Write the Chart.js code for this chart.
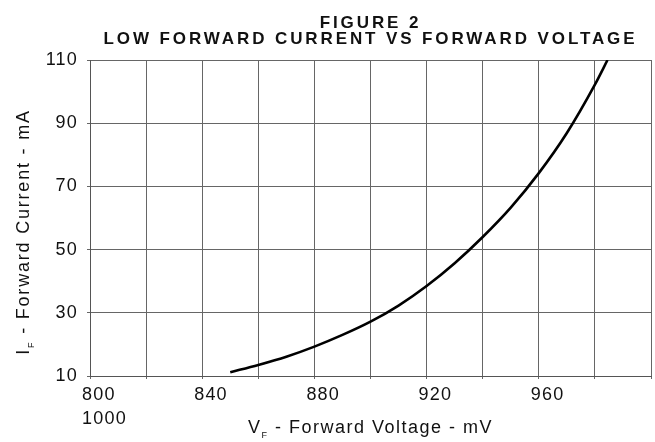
<!DOCTYPE html>
<html>
<head>
<meta charset="utf-8">
<script src="https://cdn.jsdelivr.net/npm/chart.js@4.4.0/dist/chart.umd.min.js"></script>
<style>
  html, body { margin: 0; padding: 0; background: #fff; }
  #wrap { width: 655px; height: 442px; }
</style>
</head>
<body>
<div id="wrap"><canvas id="myChart" width="655" height="442"></canvas></div>
<script>
// forward voltage (mV) and forward current (mA)
const voltajes = [850, 860, 870, 880, 890, 900, 910, 920, 930, 940, 950, 960, 970, 980, 984.5];
const corrientes = [11.2, 13.5, 16.1, 19.3, 23.0, 27.2, 32.3, 38.5, 45.7, 54.0, 63.3, 74.2, 86.9, 102.2, 110];

const xMin = 800, xMax = 1000, xPaso = 20;
const yMin = 10, yMax = 110, yPaso = 20;
const etiquetasX = { 800: ['800', '1000'], 840: '840', 880: '880', 920: '920', 960: '960' };

const titulo1 = 'FIGURE 2';
const titulo2 = 'LOW FORWARD CURRENT VS FORWARD VOLTAGE';
const tituloX = [['V', 18, 0], ['F', 9, 5], [' - Forward Voltage - mV', 18, 0]];
const tituloY = [['I', 18, 0], ['F', 9, 5], [' - Forward Current - mA', 18, 0]];

const FUENTE = '"Liberation Sans", Arial, sans-serif';

// draws text pieces (text, size, baseline shift) centred on x
function dibujarPartes(ctx, partes, x, y, espaciado) {
    ctx.letterSpacing = espaciado + 'px';
    let total = 0;
    partes.forEach(p => {
        ctx.font = `${p[1]}px ${FUENTE}`;
        total += ctx.measureText(p[0]).width;
    });
    let cx = x - total / 2;
    partes.forEach(p => {
        ctx.font = `${p[1]}px ${FUENTE}`;
        ctx.fillText(p[0], cx, y + p[2]);
        cx += ctx.measureText(p[0]).width;
    });
}

const textos = {
    id: 'textos',
    beforeDraw(chart) {
        // the tick labels in the figure are a bit wider than Arial
        chart.ctx.letterSpacing = '1.2px';
    },
    afterDraw(chart) {
        const ctx = chart.ctx;
        const area = chart.chartArea;
        const centro = (area.left + area.right) / 2;
        ctx.save();
        ctx.fillStyle = '#111';
        ctx.textBaseline = 'alphabetic';
        ctx.textAlign = 'left';

        ctx.letterSpacing = '2.9px';
        ctx.font = `bold 17px ${FUENTE}`;
        let w = ctx.measureText(titulo1).width;
        ctx.fillText(titulo1, centro - w / 2, 27.5);
        w = ctx.measureText(titulo2).width;
        ctx.fillText(titulo2, centro - w / 2, 43.5);

        dibujarPartes(ctx, tituloX, centro, 433, 1.5);

        ctx.translate(29, 232);
        ctx.rotate(-Math.PI / 2);
        dibujarPartes(ctx, tituloY, 0, 0, 1.8);
        ctx.restore();
        ctx.letterSpacing = '0px';
    }
};

const ctx = document.getElementById('myChart').getContext('2d');
const myChart = new Chart(ctx, {
    type: 'scatter',
    data: {
        datasets: [{
            label: 'IF',
            data: voltajes.map((v, i) => ({ x: v, y: corrientes[i] })),
            showLine: true,
            borderColor: '#000',
            borderWidth: 2.6,
            pointRadius: 0,
            cubicInterpolationMode: 'monotone',
            fill: false
        }]
    },
    options: {
        responsive: false,
        animation: false,
        devicePixelRatio: 1,
        layout: { padding: { top: 60, right: 3, left: 0, bottom: 0 } },
        plugins: {
            legend: { display: false },
            tooltip: { enabled: false }
        },
        scales: {
            x: {
                type: 'linear',
                min: xMin,
                max: xMax,
                afterFit: (s) => { s.height = 66; },
                ticks: {
                    stepSize: xPaso,
                    autoSkip: false,
                    maxRotation: 0,
                    align: 'start',
                    labelOffset: -8,
                    padding: 4,
                    color: '#111',
                    font: { family: FUENTE, size: 18, lineHeight: 1.33 },
                    callback: (v) => etiquetasX[v] || ''
                },
                grid: { color: '#666', lineWidth: 1, tickLength: 3 },
                border: { color: '#555', width: 1 }
            },
            y: {
                type: 'linear',
                min: yMin,
                max: yMax,
                afterFit: (s) => { s.width = 90; },
                ticks: {
                    stepSize: yPaso,
                    padding: 9,
                    color: '#111',
                    font: { family: FUENTE, size: 18 }
                },
                grid: { color: '#666', lineWidth: 1, tickLength: 3 },
                border: { color: '#555', width: 1 }
            }
        }
    },
    plugins: [textos]
});
</script>
</body>
</html>
